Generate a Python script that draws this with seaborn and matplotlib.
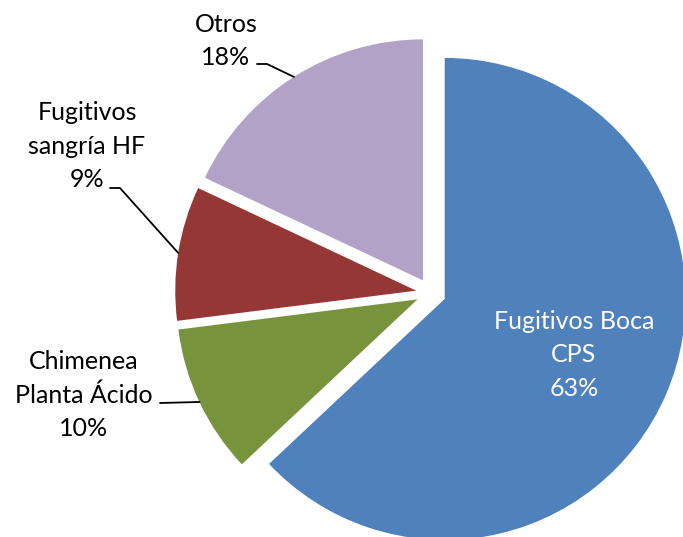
import numpy as np
import matplotlib
matplotlib.use('Agg')
import matplotlib.pyplot as plt
import seaborn as sns

# emission share by source (%)
labels = ['Fugitivos Boca\nCPS', 'Chimenea\nPlanta Ácido', 'Fugitivos\nsangría HF', 'Otros']
shares = [63, 10, 9, 18]
colors = ['#4F81BD', '#77933C', '#953735', '#B2A2C7']

sns.set_theme(style='white')
plt.rcParams['font.family'] = ['Lato', 'DejaVu Sans']

W, H = 683, 537
CX, CY, R = 431, 293, 241  # pie centre / radius in image pixels


def px(x, y):
    # image pixel -> data coords (pie radius = 1)
    return (x - CX) / R, (CY - y) / R


fig = plt.figure(figsize=(W / 100, H / 100), dpi=100)
ax = fig.add_axes([0, 0, 1, 1])
wedges, _ = ax.pie(shares, colors=sns.color_palette(colors), startangle=90,
                   counterclock=False, explode=[0.062] * 4, radius=1,
                   wedgeprops=dict(linewidth=0))
ax.set_xlim(px(0, 0)[0], px(W, 0)[0])
ax.set_ylim(px(0, H)[1], px(0, 0)[1])
ax.set_aspect('equal')
ax.axis('off')

# label text centre (px) and leader start (px); None = label inside slice
layout = [((574, 355), None),
          ((84, 395), (160, 403)),
          ((87, 146), (110, 188)),
          ((226, 41), (257, 64))]

for w, lab, s, (tpos, lstart) in zip(wedges, labels, shares, layout):
    txt = f'{lab}\n{s}%'
    tx, ty = px(*tpos)
    color = 'white' if lstart is None else 'black'
    ax.text(tx, ty, txt, ha='center', va='center', fontsize=18,
            color=color, linespacing=1.55)
    if lstart is None:
        continue
    mid = np.deg2rad((w.theta1 + w.theta2) / 2)
    ex = w.center[0] + w.r * np.cos(mid)
    ey = w.center[1] + w.r * np.sin(mid)
    sx, sy = px(*lstart)
    elbow = sx + 10 / R
    if abs(ey - sy) * R < 4:
        ax.plot([sx, ex], [sy, ey], color='black', lw=1.3)
    else:
        ax.plot([sx, elbow, ex], [sy, sy, ey], color='black', lw=1.3)

fig.savefig('out.png', dpi=100)
